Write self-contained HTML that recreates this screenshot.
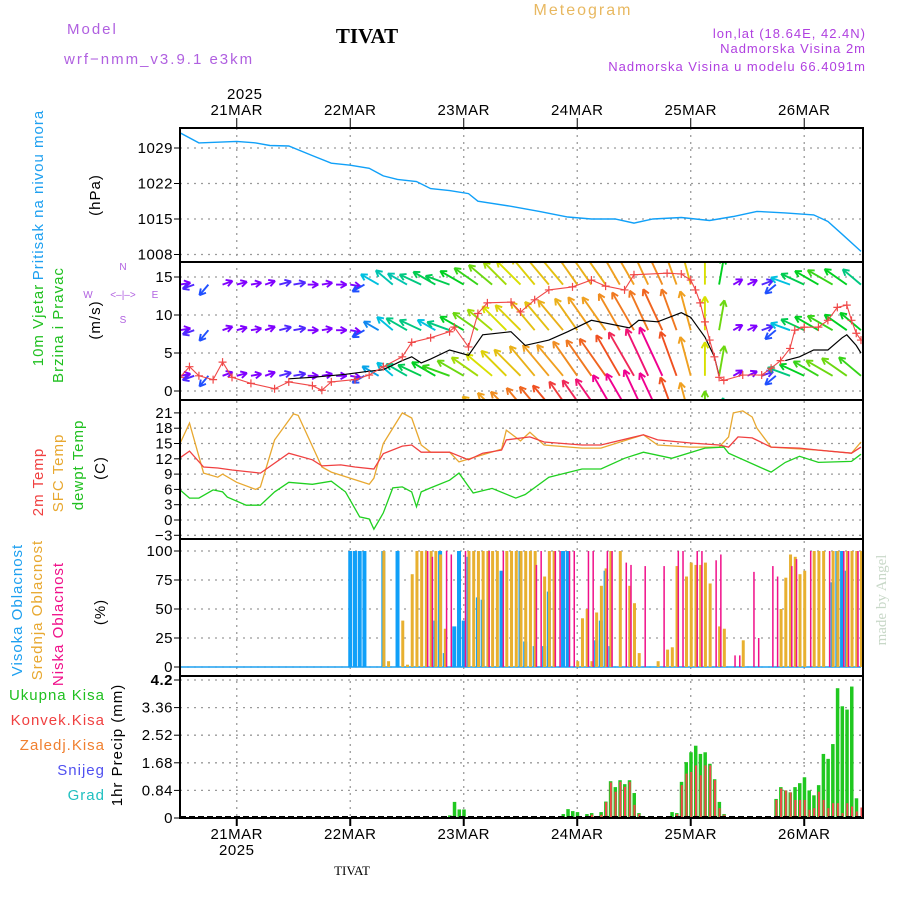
<!DOCTYPE html>
<html><head><meta charset="utf-8">
<style>
html,body{margin:0;padding:0;background:#fff;}
svg{display:block;font-family:"Liberation Sans",sans-serif;}
.tk{font-size:15px;fill:#000;text-anchor:end;letter-spacing:0.5px}
.dl{font-size:15px;fill:#000;text-anchor:middle;letter-spacing:0.5px}
.lab{font-size:15px;letter-spacing:1px}
.grid{stroke:#9a9a9a;stroke-width:1.3;stroke-dasharray:2,5;fill:none}
</style></head><body>
<svg id="chart" width="900" height="900" viewBox="0 0 900 900">
<g>
<text x="67" y="34" fill="#b060e0" style="font-size:15px;letter-spacing:2px">Model</text>
<text x="64" y="64" fill="#b060e0" style="font-size:15px;letter-spacing:2px">wrf−nmm_v3.9.1 e3km</text>
<text x="367" y="43" text-anchor="middle" style="font-family:'Liberation Serif',serif;font-weight:bold;font-size:21px;fill:#000">TIVAT</text>
<text x="583" y="15" text-anchor="middle" fill="#e8b860" style="font-size:16px;letter-spacing:2px">Meteogram</text>
<text x="866" y="38" text-anchor="end" fill="#b040e0" style="font-size:13px;letter-spacing:1px">lon,lat (18.64E, 42.4N)</text>
<text x="866" y="53" text-anchor="end" fill="#b040e0" style="font-size:13px;letter-spacing:1px">Nadmorska Visina 2m</text>
<text x="866" y="71" text-anchor="end" fill="#b040e0" style="font-size:13px;letter-spacing:1px">Nadmorska Visina u modelu 66.4091m</text>
<text x="352" y="875" text-anchor="middle" style="font-family:'Liberation Serif',serif;font-size:13px;fill:#000">TIVAT</text>
<text transform="translate(886,600) rotate(-90)" text-anchor="middle" fill="#c8d8c8" style="font-family:'Liberation Serif',serif;font-size:15px">made by Angel</text>
</g>
<g>
<text transform="translate(43,195) rotate(-90)" text-anchor="middle" fill="#1ea0f0" class="lab">Pritisak na nivou mora</text>
<text transform="translate(100,195) rotate(-90)" text-anchor="middle" fill="#000" class="lab">(hPa)</text>
<text transform="translate(43,325) rotate(-90)" text-anchor="middle" fill="#20c020" class="lab">10m Vjetar</text>
<text transform="translate(63,325) rotate(-90)" text-anchor="middle" fill="#20c020" class="lab">Brzina i Pravac</text>
<text transform="translate(100,320) rotate(-90)" text-anchor="middle" fill="#000" class="lab">(m/s)</text>
<g fill="#b060e0" style="font-size:10px">
<text x="123" y="270" text-anchor="middle">N</text><text x="123" y="323" text-anchor="middle">S</text>
<text x="88" y="298" text-anchor="middle">W</text><text x="155" y="298" text-anchor="middle">E</text>
<text x="123" y="298" text-anchor="middle">&lt;–|–&gt;</text>
</g>
<text transform="translate(43,482) rotate(-90)" text-anchor="middle" fill="#f04040" class="lab">2m Temp</text>
<text transform="translate(63,473) rotate(-90)" text-anchor="middle" fill="#e8a830" class="lab">SFC Temp</text>
<text transform="translate(83,465) rotate(-90)" text-anchor="middle" fill="#20c020" class="lab">dewpt Temp</text>
<text transform="translate(105,468) rotate(-90)" text-anchor="middle" fill="#000" class="lab">(C)</text>
<text transform="translate(22,610) rotate(-90)" text-anchor="middle" fill="#1ea0f0" class="lab">Visoka Oblacnost</text>
<text transform="translate(42,610) rotate(-90)" text-anchor="middle" fill="#e8a830" class="lab">Srednja Oblacnost</text>
<text transform="translate(63,624) rotate(-90)" text-anchor="middle" fill="#f0108a" class="lab">Niska Oblacnost</text>
<text transform="translate(105,612) rotate(-90)" text-anchor="middle" fill="#000" class="lab">(%)</text>
<text x="105" y="700" text-anchor="end" fill="#20c020" class="lab">Ukupna Kisa</text>
<text x="105" y="725" text-anchor="end" fill="#f04040" class="lab">Konvek.Kisa</text>
<text x="105" y="750" text-anchor="end" fill="#f08030" class="lab">Zaledj.Kisa</text>
<text x="105" y="775" text-anchor="end" fill="#5050f0" class="lab">Snijeg</text>
<text x="105" y="800" text-anchor="end" fill="#20c0c0" class="lab">Grad</text>
<text transform="translate(122,745) rotate(-90)" text-anchor="middle" fill="#000" class="lab">1hr Precip (mm)</text>
</g>
<g id="plot"></g>
</svg>
<script>
// ---------- data ----------
const dayLabels = ["21MAR","22MAR","23MAR","24MAR","25MAR","26MAR"];
const dayHours = [12,36,60,84,108,132];
const pressTicks = [1008,1015,1022,1029];
const windTicks = [0,5,10,15];
const tempTicks = [-3,0,3,6,9,12,15,18,21];
const cloudTicks = [0,25,50,75,100];
const precipTicks = ["0","0.84","1.68","2.52","3.36","4.2"];

const pressure = [[0,1032],[4,1030],[12,1030.3],[16,1030],[19,1029.5],[23,1029.4],[28,1027.5],[32,1026],[36,1025.6],[40,1025],[43,1023.5],[46,1022.8],[50,1022.4],[53,1021],[57,1020.6],[61,1020],[63,1018.5],[70,1017.5],[76,1016.5],[82,1015.4],[87,1015],[92,1015],[96,1014.2],[100,1015],[106,1015.3],[112,1014.7],[117,1015.5],[122,1016.5],[128,1016.2],[134,1015.8],[137,1014.5],[140,1012],[144,1008.6]];

const temp2m = [[0,12.2],[2,13.5],[5,10.4],[8,10.2],[11,9.8],[17,9.2],[23,13.1],[28,11.8],[30,10.6],[34,10.8],[37,10.4],[41,10],[43,13],[47,14.5],[49,14.7],[51,13.3],[57,13.3],[61,11.8],[64,13.1],[68,13.7],[69,15.7],[74,16.3],[77,15.3],[85,14.7],[89,14.7],[98,16.7],[101,15.7],[108,15.1],[114,14.7],[116,14.3],[118,16.3],[121,16.1],[125,14.3],[131,14.1],[135,13.7],[142,13.1],[144,14.3]];
const tempSfc = [[0,15],[2,19],[5,9.2],[8,8.4],[9,9],[12,7.4],[16,6],[17,6.5],[20,15.7],[24,20.8],[25,20.5],[30,10.4],[32,9.4],[40,7],[41,8.2],[43,15],[47,21],[49,20],[51,14.7],[53,13.3],[57,13.3],[59,11.4],[68,13.9],[69,17.6],[72,15.5],[74,17.2],[77,14.7],[85,14.1],[89,14.1],[98,16.7],[101,14.7],[108,14.3],[114,14.3],[116,16.3],[117,21],[119,21.4],[121,20.2],[122,18],[125,14.3],[135,13.7],[142,13.1],[144,15.3]];
const dewpt = [[0,5.9],[2,4.3],[4,4.3],[7,5.9],[9,5.5],[10,4.5],[14,2.9],[17,2.9],[20,5.5],[23,7.4],[28,7],[32,7.6],[35,5.5],[38,0.6],[40,0.2],[41,-1.8],[43,1.4],[45,6.3],[47,6.5],[49,5.5],[50,2.6],[51,5.5],[53,6.3],[57,7.8],[59,9.2],[62,5.3],[66,6.2],[71,4.3],[73,5],[78,8.4],[85,10],[89,10],[94,12.1],[98,13.3],[104,12.1],[111,14.1],[115,14.3],[116,13.1],[123,10.2],[125,9.4],[128,11.3],[131,12.5],[135,11.3],[142,11.5],[144,12.9]];

const gust = [[0,1.8],[2,3.2],[4,2],[7,1.5],[9,3.8],[11,1.8],[15,1],[20,0.3],[23,1.2],[28,0.7],[30,0.1],[32,1.2],[37,1.5],[40,2.1],[43,3.2],[47,4.5],[49,6.4],[53,7],[57,7.8],[58,8.4],[61,5.8],[63,10.2],[65,11.6],[70,11.7],[72,10.4],[75,12],[78,13.3],[83,13.7],[87,14.6],[90,13.8],[94,13.3],[96,15.3],[103,15.5],[106,15.4],[108,14.6],[109,13.3],[110,11.6],[111,9.1],[112,6.7],[113,4.5],[114,1.8],[115,1.4],[119,2.1],[123,2.1],[125,3],[127,4],[129,5.6],[130,8],[132,8.4],[135,8.4],[137,9.3],[139,11],[141,11.3],[142,9.3],[143,7.6],[144,6.7]];
const speed = [[23,1.6],[28,1.8],[35,2.2],[40,2.6],[43,2.8],[47,4],[49,4.5],[51,3.7],[53,4.2],[57,5.4],[61,4.7],[64,7.4],[70,7.8],[73,6],[78,6.7],[82,7.8],[87,9.3],[95,8.3],[97,9.3],[101,9.1],[106,10.3],[108,9.7],[111,7.1],[113,4.5],[114,2]];
const speed2 = [[128,4],[131,4.5],[134,5.4],[137,5.4],[140,7],[141,7.4],[143,6],[144,5]];

// wind arrows, 3-hourly (index*3 = hours); direction the arrow points (deg, 0=N, 90=E)
const windDir = [80,250,220,70,75,80,70,75,80,90,80,90,100,240,300,310,300,295,300,290,300,305,310,315,315,320,320,320,325,325,325,330,330,335,335,340,345,0,10,60,65,70,230,290,295,300,300,305,310];
const windRowLevels = [14,8,2,-4];
const windTop = [2,2.5,3,2,2,2,2,2.5,2.5,2,2,2,2,3,5,5.5,5.5,6,6.5,6.5,7,7.5,8,8.5,9,9.5,10,10,10.5,10.5,10.5,11,11,11,11.5,11,10,9,7,2,2,2.5,3,5,6.5,7,7.5,7,6];
const windMid = [2,2.5,3,2,2,2,2,2.5,2.5,2,2,2,2,3,4,5,6,6,5,6,7,8,8.5,9,9.5,10,10,10.5,10.5,11,11,11.5,12,12,12.5,12,11,9,8,2,2,2.5,3,5,6.5,7,7.5,7,7];
const windLow = [2,2.5,3,2,2,2,2,2.5,2.5,2,2,2,2,3,4.5,5,6,6.5,7,7.5,8,8.5,9,9.5,10,10.5,11,11,11.5,12,12.5,13,14,14.5,15,13,11,9,8,2,2,2.5,3,6,7,7.5,8,8,7.5];
const windBottom = [0,0,0,0,0,0,0,0,0,0,0,0,0,0,3,4,5,6,7,8,9,10,10.5,11,11.5,12,12.5,13,13.5,14,14.5,15,15.5,16,15,13,11,8,6,2,2,2.5,3,5,6,6.5,7,7,7];

// clouds: [hour, percent]
const cloudHigh = [[36,100],[37,100],[38,100],[39,100],[43,100],[46,100],[54,40],[55,100],[56,12],[58,35],[59,100],[60,40],[61,95],[63,60],[64,58],[68,83],[72,100],[73,22],[75,18],[77,18],[78,65],[81,100],[82,100],[88,23],[89,40],[90,83],[91,18],[138,73],[139,100],[140,100],[141,83]];
const cloudMid = [[43,100],[44,5],[47,40],[48,2],[49,80],[50,100],[51,100],[52,100],[53,100],[54,100],[55,97],[56,33],[61,100],[62,100],[63,100],[64,100],[65,100],[66,100],[67,100],[69,100],[70,100],[71,100],[72,100],[73,100],[74,100],[75,100],[77,78],[78,100],[79,100],[84,5],[85,42],[86,50],[87,5],[88,47],[89,70],[90,85],[91,100],[93,100],[95,70],[96,55],[97,12],[101,5],[103,15],[104,17],[105,87],[107,78],[108,90],[109,88],[110,88],[111,90],[112,72],[114,35],[115,33],[119,23],[127,50],[128,77],[129,97],[130,95],[131,80],[132,83],[134,100],[135,100],[136,100],[138,100],[139,100],[141,100],[142,100],[143,100],[144,100]];
const cloudLow = [[52,100],[53,95],[56,100],[57,97],[60,100],[65,100],[68,100],[75,88],[76,100],[79,100],[80,100],[82,100],[83,100],[86,100],[87,100],[90,100],[91,100],[94,90],[95,88],[98,87],[102,87],[105,100],[106,100],[109,100],[110,100],[113,92],[114,97],[117,10],[118,10],[121,82],[122,25],[125,87],[126,78],[129,87],[130,93],[133,100],[137,100],[140,100],[141,100],[143,100]];

// precip: [hour, total, convective]
const precip = [[57,0.08,0],[58,0.49,0],[59,0.26,0],[60,0.26,0],[81,0.12,0],[82,0.27,0],[83,0.21,0],[84,0.18,0],[86,0.12,0.02],[87,0.15,0.1],[89,0.18,0.1],[90,0.5,0.48],[91,1.12,1.08],[92,0.94,0.8],[93,1.15,1.1],[94,1.03,0.95],[95,1.15,1.1],[96,0.76,0.4],[97,0.15,0.12],[98,0.05,0],[104,0.18,0],[105,0.15,0.12],[106,1.1,1.0],[107,1.7,1.35],[108,2.0,1.4],[109,2.2,1.6],[110,1.95,1.3],[111,2.0,1.6],[112,1.65,1.6],[113,1.18,1.15],[114,0.49,0.3],[115,0.12,0.1],[116,0,0.03],[126,0.58,0.55],[127,0.94,0.9],[128,0.84,0.84],[129,0.78,0.78],[130,0.94,0.55],[131,1.06,0.55],[132,1.24,0.55],[133,0.84,0.25],[134,0.69,0.3],[135,1.0,0.8],[136,1.95,0.55],[137,1.8,0.3],[138,2.25,0.45],[139,3.95,0.45],[140,3.4,0.15],[141,3.3,0.45],[142,4.0,0.35],[143,0.6,0.2],[144,0,0.32]];

// ---------- layout ----------
const X0=180, X1=863, PXH=4.729;
const xOf = h => X0 + h*PXH;
const yP = p => 148 + (1029-p)*5.071;
const yW = v => 391 - v*7.6;
const yT = t => 520 - t*5.1;
const yC = c => 667 - c*1.16;
const yR = r => 818 - r*32.86;
const panels = [[128,262],[262,400],[400,539],[539,676],[676,818]];

const NS="http://www.w3.org/2000/svg";
const plot=document.getElementById('plot');
function el(tag, attrs, parent){const e=document.createElementNS(NS,tag);for(const k in attrs)e.setAttribute(k,attrs[k]);(parent||plot).appendChild(e);return e;}

const defs=el('defs',{});
panels.forEach((p,i)=>{const c=el('clipPath',{id:'clip'+i},defs);el('rect',{x:X0,y:p[0],width:X1-X0,height:p[1]-p[0]},c);});

const gridG=el('g',{});


function hgrid(y,pi){if(y>panels[pi][0]+2&&y<panels[pi][1]-2)el('line',{x1:X0,x2:X1,y1:y,y2:y,class:'grid'},gridG);}
pressTicks.forEach(v=>hgrid(yP(v),0));
windTicks.forEach(v=>hgrid(yW(v),1));
tempTicks.forEach(v=>hgrid(yT(v),2));
cloudTicks.forEach(v=>hgrid(yC(v),3));
precipTicks.forEach(v=>hgrid(yR(+v),4));
dayHours.forEach(h=>el('line',{x1:xOf(h),x2:xOf(h),y1:128,y2:818,class:'grid'},gridG));

const tickG=el('g',{});


function tick(y,txt,bold){const t=el('text',{x:173,y:y+5,class:'tk'},tickG);if(bold)t.setAttribute('font-weight','bold');t.textContent=txt;el('line',{x1:174,x2:X0,y1:y,y2:y,stroke:'#000'},tickG);}
pressTicks.forEach(v=>tick(yP(v),v));
windTicks.forEach(v=>tick(yW(v),v));
tempTicks.forEach(v=>tick(yT(v),v<0?'−'+(-v):v));
cloudTicks.forEach(v=>tick(yC(v),v));
precipTicks.forEach((v,i)=>tick(yR(+v),v,i===precipTicks.length-1));

const dateG=el('g',{});


dayHours.forEach((h,i)=>{
  const t1=el('text',{x:xOf(h),y:115,class:'dl'},dateG);t1.textContent=dayLabels[i];
  const t2=el('text',{x:xOf(h),y:839,class:'dl'},dateG);t2.textContent=dayLabels[i];
  el('line',{x1:xOf(h),x2:xOf(h),y1:118,y2:128,stroke:'#000'},dateG);
  el('line',{x1:xOf(h),x2:xOf(h),y1:818,y2:826,stroke:'#000',"stroke-width":2},dateG);
});
const y1=el('text',{x:xOf(12)+8,y:99,class:'dl'},dateG);y1.textContent='2025';
const y2=el('text',{x:xOf(12),y:855,class:'dl'},dateG);y2.textContent='2025';

function line(data,yf,color,name,pi,w){
  const p=el('polyline',{points:data.map(d=>xOf(d[0]).toFixed(1)+','+yf(d[1]).toFixed(1)).join(' '),fill:'none',stroke:color,'stroke-width':w||1.3,'clip-path':'url(#clip'+pi+')'});
  
  
  return p;
}

line(pressure,yP,'#10a0f8','pressure-line',0,1.4);

const stops=[[2,[128,0,255]],[3,[32,80,255]],[5,[0,192,224]],[7,[0,208,32]],[9,[216,224,0]],[11,[240,160,32]],[13,[240,80,32]],[15,[240,0,144]]];
function wcol(s){if(s<=stops[0][0])return 'rgb('+stops[0][1]+')';for(let i=1;i<stops.length;i++){if(s<=stops[i][0]){const a=stops[i-1],b=stops[i],f=(s-a[0])/(b[0]-a[0]);return 'rgb('+a[1].map((c,k)=>Math.round(c+(b[1][k]-c)*f)).join(',')+')';}}return 'rgb('+stops[stops.length-1][1]+')';}
const rows=[windTop,windMid,windLow,windBottom];
const windG=el('g',{'clip-path':'url(#clip1)'});


rows.forEach((row,r)=>{
  const by=yW(windRowLevels[r]);
  row.forEach((s,i)=>{
    if(s<=0)return;
    const a=windDir[i]*Math.PI/180, L=s*3.3+4, x=xOf(i*3);
    const tx=x+Math.sin(a)*L, ty=by-Math.cos(a)*L, c=wcol(s);
    const g=el('g',{stroke:c,'stroke-width':1.9,fill:'none'},windG);
    
    
    el('line',{x1:x,y1:by,x2:tx,y2:ty},g);
    [0.5,-0.5].forEach(d=>{const b=a+Math.PI+d;el('line',{x1:tx,y1:ty,x2:tx+Math.sin(b)*7,y2:ty-Math.cos(b)*7},g);});
  });
});
line(speed,yW,'#000','wind-speed-line',1,1.2);
line(speed2,yW,'#000','wind-speed-line-late',1,1.2);
line(gust,yW,'#f04848','wind-gust-line',1,1.1);
const gm=el('g',{stroke:'#f04848','stroke-width':1.2,'clip-path':'url(#clip1)'});


gust.forEach(d=>{const x=xOf(d[0]),y=yW(d[1]);el('path',{d:`M${x-4},${y}H${x+4}M${x},${y-4}V${y+4}`},gm);});

line(tempSfc,yT,'#e8a830','sfc-temp-line',2,1.3);
line(temp2m,yT,'#f04040','temp-2m-line',2,1.3);
line(dewpt,yT,'#20d020','dewpoint-line',2,1.3);

const cg=el('g',{'clip-path':'url(#clip3)'});


el('line',{x1:X0,x2:xOf(144),y1:667,y2:667,stroke:'#1ea0f0','stroke-width':1.5},cg);
function cbars(data,color,w,off,name){data.forEach(d=>{const r=el('rect',{x:xOf(d[0])+off,y:yC(d[1]),width:w,height:667-yC(d[1]),fill:color},cg);});}
cbars(cloudHigh,'#10a0f8',4,-2,'high-cloud-bar');
cbars(cloudMid,'#e8b030',3,-1,'mid-cloud-bar');
cbars(cloudLow,'#f0108a',1.5,1,'low-cloud-bar');

const pg=el('g',{'clip-path':'url(#clip4)'});


precip.forEach(d=>{
  const x=xOf(d[0]);
  if(d[1]>0){const r=el('rect',{x:x-1.5,y:yR(d[1]),width:3.5,height:818-yR(d[1]),fill:'#20c820'},pg);}
  if(d[2]>0){const r=el('rect',{x:x-0.5,y:yR(d[2]),width:2,height:818-yR(d[2]),fill:'#f04848'},pg);}
});
el('line',{x1:X0,x2:X1,y1:817,y2:817,stroke:'#000','stroke-width':2,'stroke-dasharray':'6,3'},pg);

const fr=el('g',{fill:'none',stroke:'#000','stroke-width':2});


panels.forEach(p=>el('rect',{x:X0,y:p[0],width:X1-X0,height:p[1]-p[0]},fr));
</script>
</body></html>
